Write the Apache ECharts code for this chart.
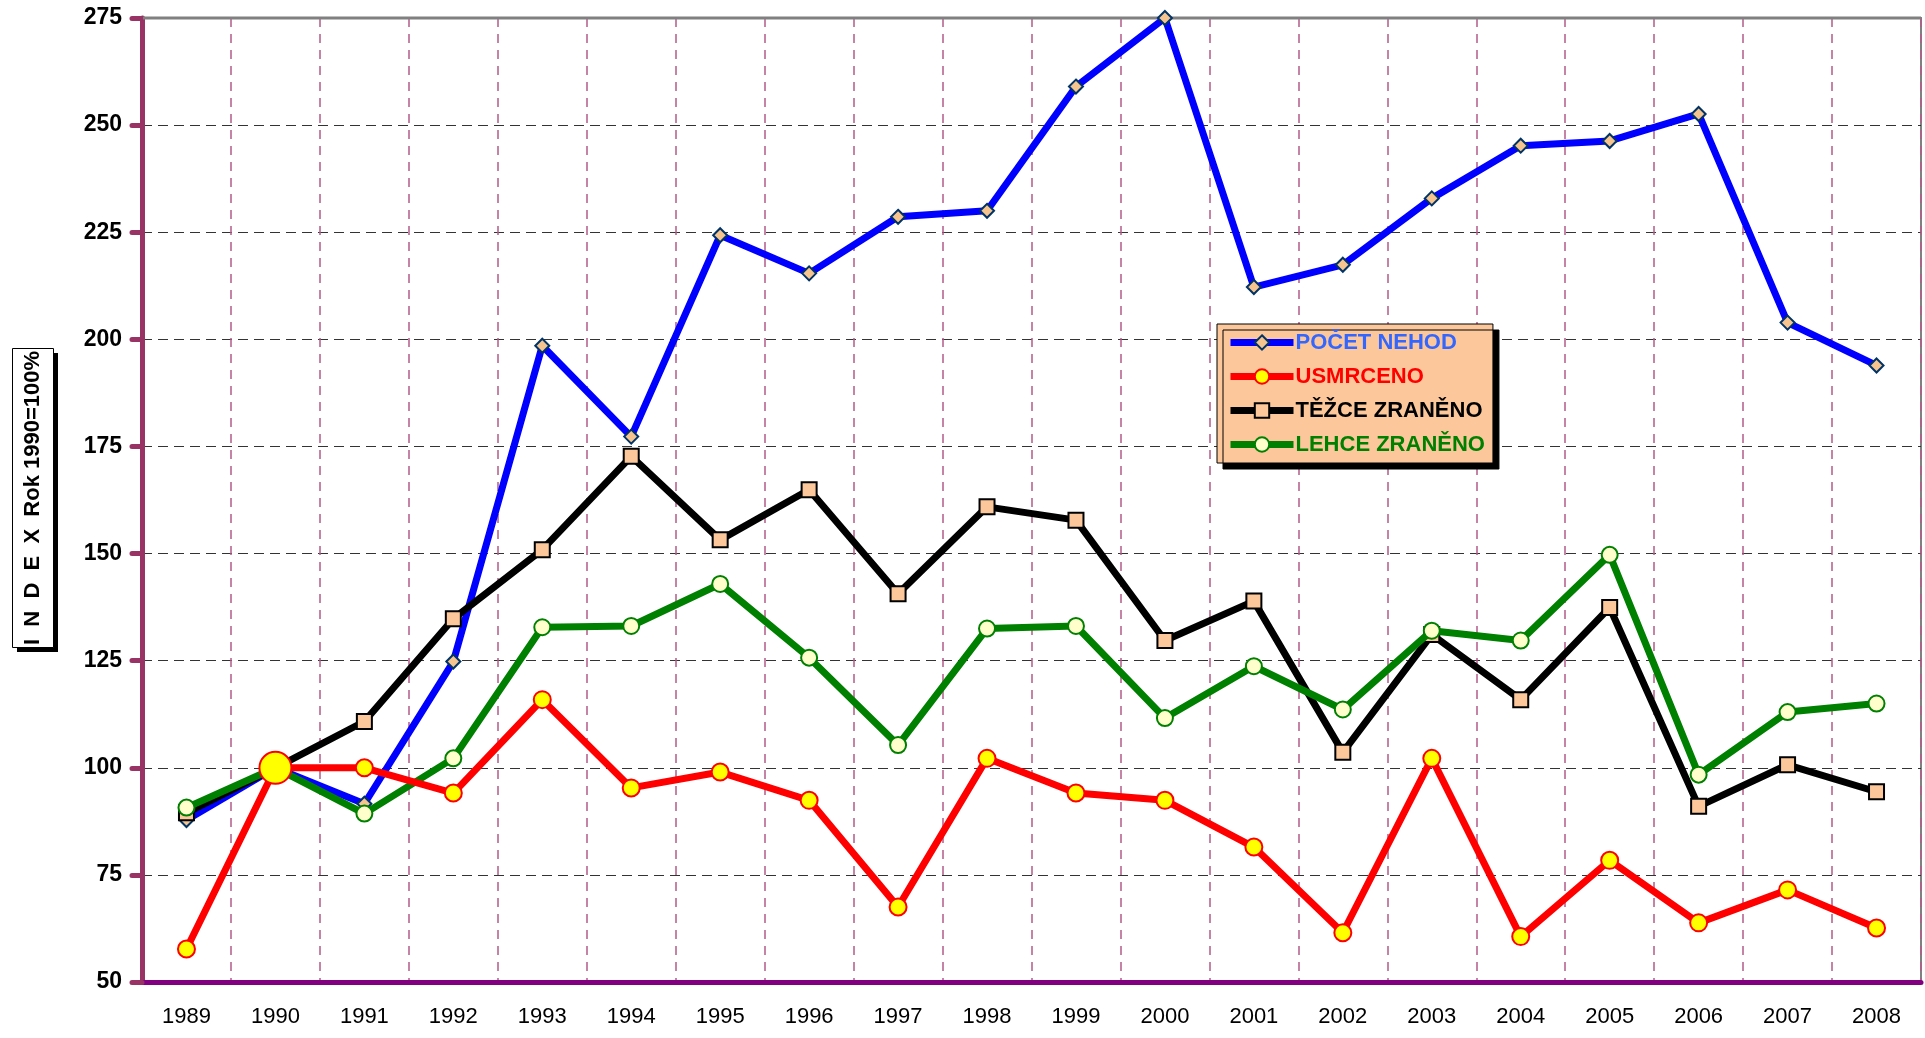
<!DOCTYPE html>
<html>
<head>
<meta charset="utf-8">
<title>Index nehod</title>
<script src="https://cdn.jsdelivr.net/npm/echarts@6/dist/echarts.min.js"></script>
<style>
  html, body { margin: 0; padding: 0; background: #fff; }
  #chart { width: 1925px; height: 1038px; }
</style>
</head>
<body>
<div id="chart"></div>
<script>
// roky na ose x
const years = ['1989', '1990', '1991', '1992', '1993', '1994', '1995', '1996', '1997', '1998',
  '1999', '2000', '2001', '2002', '2003', '2004', '2005', '2006', '2007', '2008'];

// index, rok 1990 = 100 %
const pocetNehod = [87.8, 100, 91.6, 124.8, 198.5, 177.3, 224.3, 215.4, 228.6, 230,
  259, 275, 212.2, 217.4, 232.9, 245.2, 246.3, 252.6, 203.9, 193.9];
const usmrceno = [57.7, 100, 100, 94.1, 115.9, 95.3, 99, 92.4, 67.5, 102.2,
  94.1, 92.4, 81.5, 61.5, 102.2, 60.6, 78.4, 63.8, 71.5, 62.6];
const tezceZraneno = [89.5, 100, 110.8, 134.8, 150.9, 172.7, 153.2, 164.9, 140.6, 160.9,
  157.8, 129.7, 138.9, 103.6, 131.1, 115.9, 137.4, 91, 100.7, 94.4];
const lehceZraneno = [90.7, 100, 89.3, 102.2, 132.8, 133.1, 142.9, 125.7, 105.3, 132.5,
  133.1, 111.6, 123.7, 113.6, 132, 129.7, 149.7, 98.4, 113, 115];

const FONT = "'Liberation Sans', Arial, sans-serif";

const chart = echarts.init(document.getElementById('chart'));

const option = {
  animation: false,
  grid: {
    left: 142, right: 4, top: 18, bottom: 56,
    show: true,
    borderColor: '#808080',
    borderWidth: 2
  },
  legend: {
    orient: 'vertical',
    left: 1217,
    top: 324,
    padding: [5, 8, 5, 10],
    itemWidth: 63,
    itemHeight: 18,
    itemGap: 7,
    backgroundColor: '#fcc89b',
    borderColor: '#000',
    borderWidth: 1,
    shadowColor: '#000',
    shadowBlur: 0,
    shadowOffsetX: 6,
    shadowOffsetY: 6,
    lineStyle: { width: 7 },
    textStyle: {
      fontFamily: FONT,
      fontWeight: 'bold',
      fontSize: 22,
      lineHeight: 27,
      padding: [0, 0, 0, -3]
    },
    data: [
      { name: 'POČET NEHOD', textStyle: { color: '#3366ff' } },
      { name: 'USMRCENO', textStyle: { color: '#ff0000' } },
      { name: 'TĚŽCE ZRANĚNO', textStyle: { color: '#000000' } },
      { name: 'LEHCE ZRANĚNO', textStyle: { color: '#008000' } }
    ]
  },
  xAxis: {
    type: 'category',
    data: years,
    boundaryGap: true,
    axisLine: { lineStyle: { color: '#800080', width: 5 } },
    axisTick: { length: 10, lineStyle: { color: '#800080', width: 5, cap: 'round' } },
    axisLabel: { fontFamily: FONT, fontSize: 22, color: '#000', margin: 24 },
    splitLine: { show: true, lineStyle: { color: '#b35c88', width: 1.5, type: [9, 7] } }
  },
  yAxis: {
    type: 'value',
    min: 50,
    max: 275,
    interval: 25,
    axisLine: { show: true, lineStyle: { color: '#993366', width: 5 } },
    axisTick: { show: true, length: 10, lineStyle: { color: '#993366', width: 5, cap: 'round' } },
    axisLabel: { fontFamily: FONT, fontSize: 23, fontWeight: 'bold', color: '#000', margin: 20 },
    splitLine: { show: true, lineStyle: { color: '#333', width: 1.2, type: [10, 6] } }
  },
  graphic: [
    {
      type: 'line', z: 1,
      shape: { x1: 143, y1: 18, x2: 1921, y2: 18 },
      style: { stroke: '#808080', lineWidth: 3 }
    },
    {
      type: 'rect', left: 17, top: 353, z: 10,
      shape: { width: 41, height: 299 },
      style: { fill: '#000' }
    },
    {
      type: 'rect', left: 12, top: 348, z: 11,
      shape: { width: 41, height: 299 },
      style: { fill: '#fff', stroke: '#000', lineWidth: 1 }
    },
    {
      type: 'text', x: 33, y: 498, z: 12,
      rotation: Math.PI / 2,
      style: {
        text: 'I  N  D  E  X  Rok 1990=100%',
        fontFamily: FONT,
        fontWeight: 'bold',
        fontSize: 22,
        fill: '#000',
        align: 'center',
        verticalAlign: 'middle'
      }
    }
  ],
  series: [
    {
      name: 'POČET NEHOD',
      type: 'line',
      data: pocetNehod,
      lineStyle: { color: '#0000ff', width: 7 },
      itemStyle: { color: '#f5c48f', borderColor: '#003366', borderWidth: 2 },
      symbol: 'diamond',
      symbolSize: 14,
      z: 2
    },
    {
      name: 'TĚŽCE ZRANĚNO',
      type: 'line',
      data: tezceZraneno,
      lineStyle: { color: '#000000', width: 7 },
      itemStyle: { color: '#fcc89b', borderColor: '#000', borderWidth: 2 },
      symbol: 'rect',
      symbolSize: 15,
      z: 3
    },
    {
      name: 'LEHCE ZRANĚNO',
      type: 'line',
      data: lehceZraneno,
      lineStyle: { color: '#008000', width: 7 },
      itemStyle: { color: '#ffffcc', borderColor: '#008000', borderWidth: 2 },
      symbol: 'circle',
      symbolSize: 16,
      z: 4
    },
    {
      name: 'USMRCENO',
      type: 'line',
      data: usmrceno.map((v, i) => i === 1 ? { value: v, symbolSize: 32 } : v),
      lineStyle: { color: '#ff0000', width: 7 },
      itemStyle: { color: '#ffff00', borderColor: '#ff0000', borderWidth: 2 },
      symbol: 'circle',
      symbolSize: 17,
      z: 5
    }
  ]
};

chart.setOption(option);
</script>
</body>
</html>
